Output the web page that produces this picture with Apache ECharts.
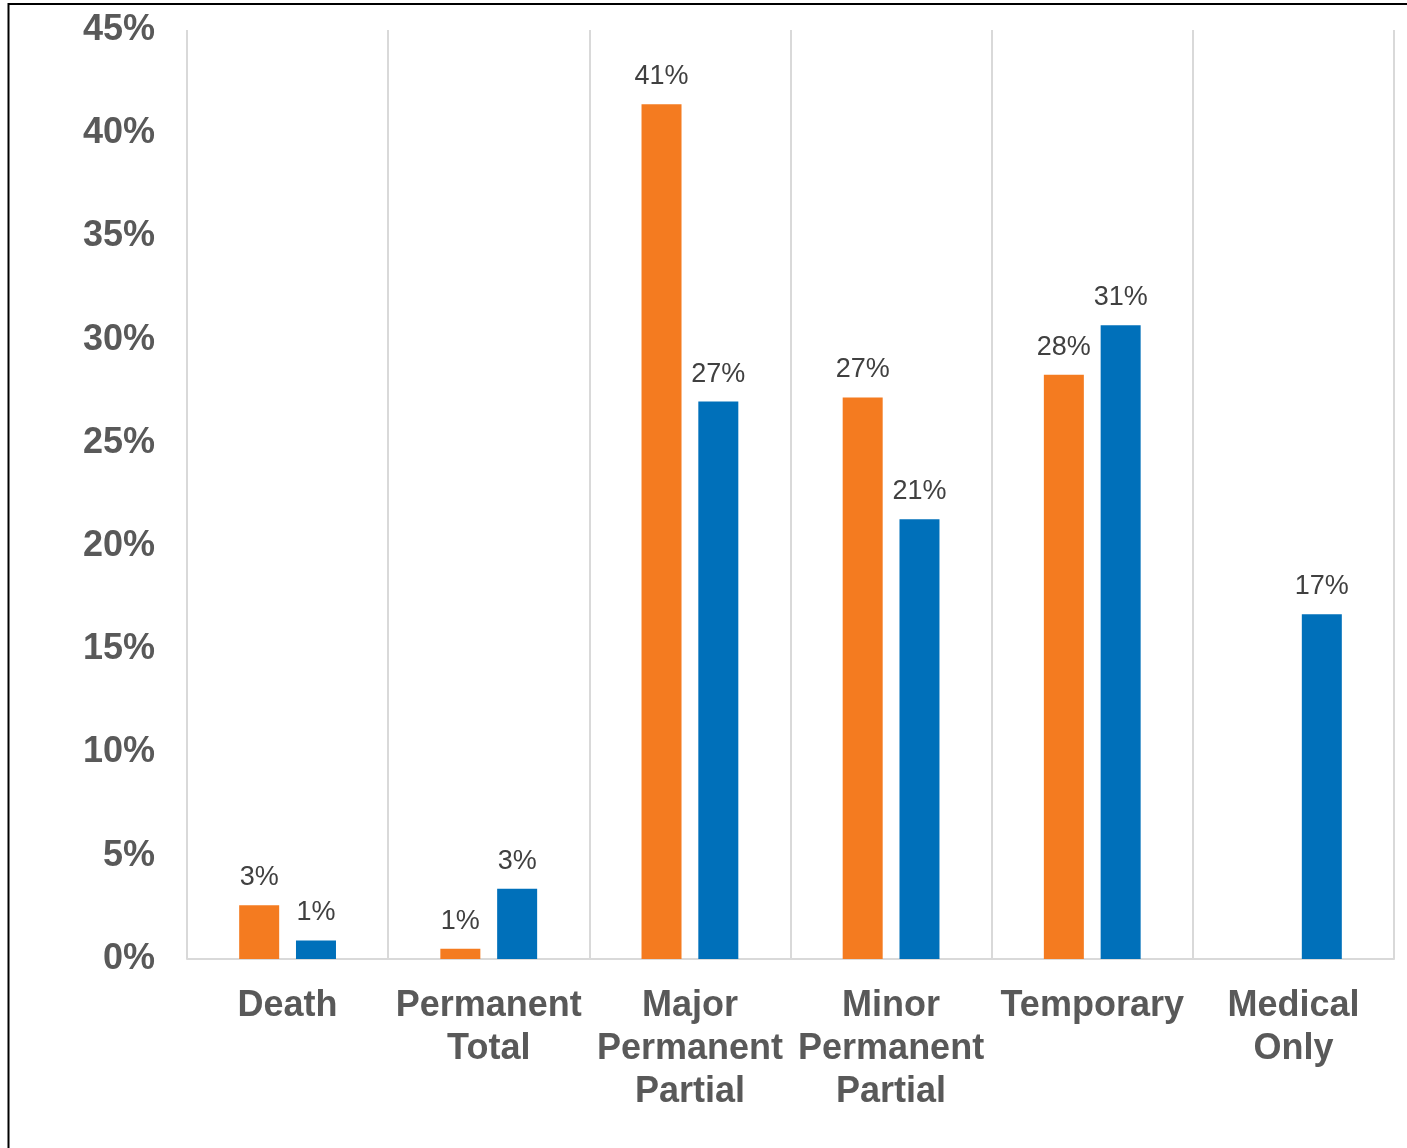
<!DOCTYPE html>
<html>
<head>
<meta charset="utf-8">
<script src="https://cdn.jsdelivr.net/npm/echarts@6/dist/echarts.min.js"></script>
<style>
html,body{margin:0;padding:0;background:#fff;}
#chart{width:1407px;height:1148px;}
</style>
</head>
<body>
<div id="chart"></div>
<script>
var categories = ["Death", "Permanent Total", "Major Permanent Partial", "Minor Permanent Partial", "Temporary", "Medical Only"];
var seriesOrange = [2.6, 0.5, 41.4, 27.2, 28.3, null];
var seriesBlue = [0.9, 3.4, 27.0, 21.3, 30.7, 16.7];
var yMin = 0, yMax = 45, yStep = 5;

var chart = echarts.init(document.getElementById('chart'), null, {renderer: 'canvas'});
var labelStyle = {
  show: true,
  position: 'top',
  distance: 14,
  fontFamily: 'Liberation Sans, Arial, sans-serif',
  fontSize: 27,
  color: '#404040',
  formatter: function (p) { return Math.round(p.value) + '%'; }
};
chart.setOption({
  animation: false,
  backgroundColor: '#ffffff',
  graphic: [{
    type: 'rect',
    shape: {x: 8.5, y: 4, width: 1500, height: 1300},
    style: {fill: 'none', stroke: '#000000', lineWidth: 2},
    silent: true,
    z: 100
  }],
  grid: {left: 187, right: 13, top: 30, bottom: 189, containLabel: false},
  xAxis: {
    type: 'category',
    data: categories,
    axisLine: {show: true, lineStyle: {color: '#d9d9d9', width: 2}},
    axisTick: {show: false},
    splitLine: {show: true, lineStyle: {color: '#d9d9d9', width: 2}},
    axisLabel: {
      interval: 0,
      margin: 26,
      fontFamily: 'Liberation Sans, Arial, sans-serif',
      fontWeight: 'bold',
      fontSize: 36,
      lineHeight: 43,
      color: '#595959',
      formatter: function (v) { return v.split(' ').join('\n'); }
    }
  },
  yAxis: {
    type: 'value',
    min: yMin,
    max: yMax,
    interval: yStep,
    axisLine: {show: false},
    axisTick: {show: false},
    splitLine: {show: false},
    axisLabel: {
      margin: 32,
      fontFamily: 'Liberation Sans, Arial, sans-serif',
      fontWeight: 'bold',
      fontSize: 36,
      color: '#595959',
      padding: [4, 0, 0, 0],
      formatter: '{value}%'
    }
  },
  series: [{
    name: 'Series 1',
    type: 'bar',
    data: seriesOrange,
    barWidth: 40,
    barGap: '42%',
    itemStyle: {color: '#F47B20'},
    label: labelStyle
  }, {
    name: 'Series 2',
    type: 'bar',
    data: seriesBlue,
    barWidth: 40,
    barGap: '42%',
    itemStyle: {color: '#0070BA'},
    label: labelStyle
  }]
});
</script>
</body>
</html>
